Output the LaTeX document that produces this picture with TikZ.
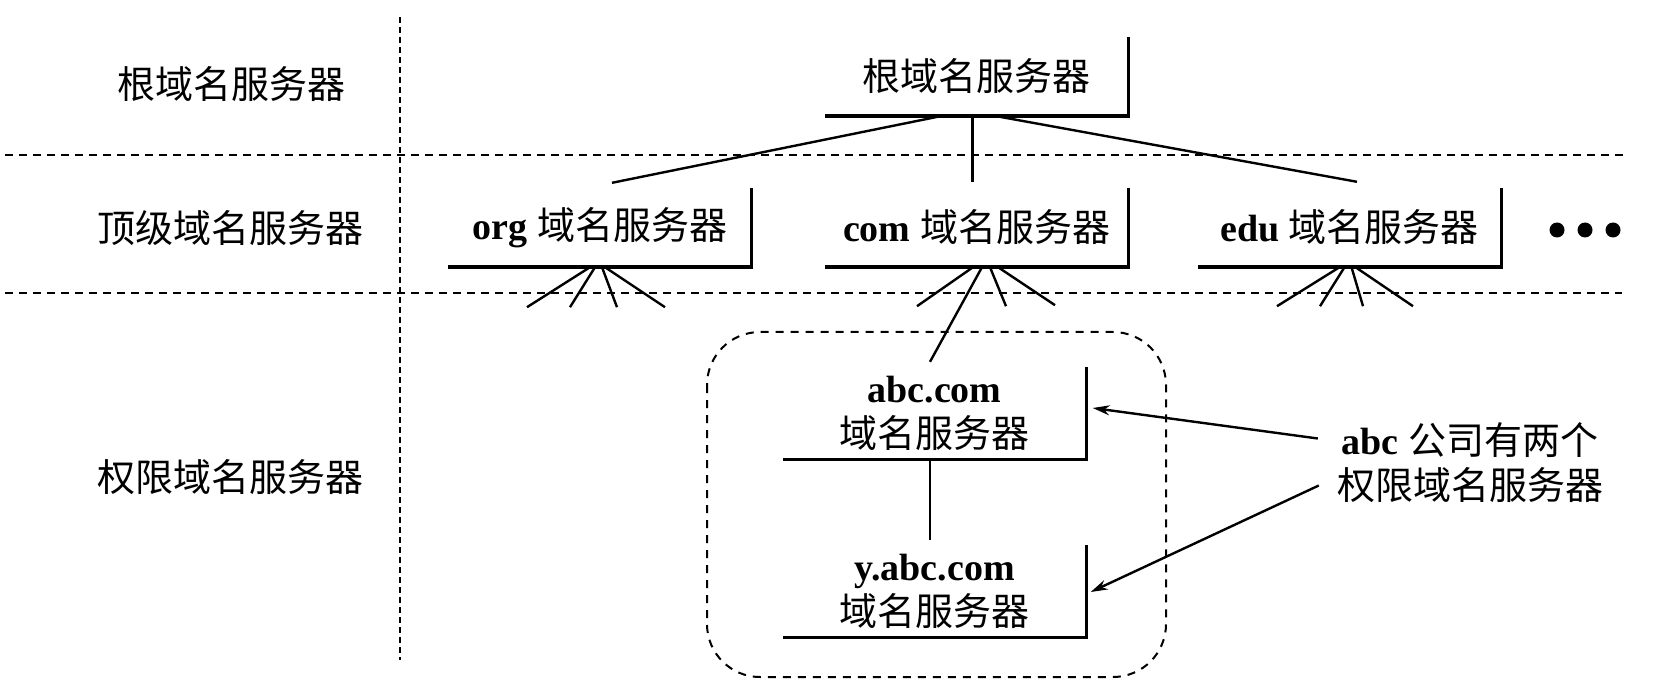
\documentclass[tikz,border=0pt]{standalone}
\usepackage{fontspec}
\setmainfont{Liberation Serif}
\newfontfamily\cjk{Noto Sans CJK SC}
\newcommand\zhtext[1]{{\cjk #1}}
\usetikzlibrary{arrows.meta,calc}
\begin{document}
\begin{tikzpicture}[x=1pt,y=-1pt,
  every node/.style={font=\fontsize{38}{45}\selectfont},
  srv/.style={minimum width=303pt, minimum height=79pt, inner sep=0pt, align=center},
  srvtall/.style={srv, minimum height=92pt},
  boxline/.style={line width=3.4pt, line join=miter},
  conn/.style={line width=2.4pt},
  sep/.style={line width=2pt, dash pattern=on 8pt off 6pt},
  vsep/.style={line width=2pt, dash pattern=on 6pt off 4pt},
  grp/.style={line width=2pt, dash pattern=on 8pt off 7pt, rounded corners=53pt},
  arr/.style={line width=2.4pt, -{Stealth[length=17pt,width=10pt]}},
  lvl/.style={inner sep=0pt},
  note/.style={inner sep=0pt, align=center}
]
\useasboundingbox (0,0) rectangle (1680,700);

% separators
\draw[sep] (5,155) -- (1625,155);
\draw[sep] (5,293) -- (1622,293);
\draw[vsep] (400,17) -- (400,660);

% level labels
\node[lvl] (l1) at (231,84) {\zhtext{根域名服务器}};
\node[lvl] (l2) at (230,228) {\zhtext{顶级域名服务器}};
\node[lvl] (l3) at (230,477) {\zhtext{权限域名服务器}};

% servers
\node[srv] (root) at (976.5,76.5) {\zhtext{根域名服务器}};
\node[srv] (org) at (600,227.5) {{\bfseries org} \zhtext{域名服务器}};
\node[srv] (com) at (976.5,227.5) {{\bfseries com} \zhtext{域名服务器}};
\node[srv] (edu) at (1349.5,227.5) {{\bfseries edu} \zhtext{域名服务器}};
\node[srvtall] (abc) at (934.5,413) {{\bfseries abc.com}\\\zhtext{域名服务器}};
\node[srvtall] (yabc) at (934.5,591) {{\bfseries y.abc.com}\\\zhtext{域名服务器}};

\foreach \n in {root,org,com,edu,abc,yabc}
  \draw[boxline] (\n.south west) -- (\n.south east) -- (\n.north east);

% dots
\foreach \x in {1557,1585,1613} \fill (\x,230) circle (7.5pt);

% root connectors
\draw[conn] ($(root.south)+(-36,0)$) -- ($(org.north)+(12,-5)$);
\draw[conn] ($(root.south)+(-4,0)$) -- ($(com.north)+(-4,-6)$);
\draw[conn] ($(root.south)+(20,0)$) -- ($(edu.north)+(7.5,-6)$);

% org fan
\draw[conn] ($(org.south)+(-10,0)$) -- ++(-63,40);
\draw[conn] ($(org.south)+(-5,0)$) -- ++(-25,40);
\draw[conn] ($(org.south)+(2,0)$) -- ++(15,40);
\draw[conn] ($(org.south)+(5,0)$) -- ++(60,40);

% com fan
\draw[conn] ($(com.south)+(-3.5,0)$) -- ++(-56,39);
\draw[conn] ($(com.south)+(5.5,0)$) -- ($(abc.north)+(-4.5,-5)$);
\draw[conn] ($(com.south)+(13.5,0)$) -- ++(16,39);
\draw[conn] ($(com.south)+(21.5,0)$) -- ++(57,38);

% edu fan
\draw[conn] ($(edu.south)+(-10,0)$) -- ++(-62.5,39);
\draw[conn] ($(edu.south)+(-5,0)$) -- ++(-24.5,39);
\draw[conn] ($(edu.south)+(2,0)$) -- ++(11.5,39);
\draw[conn] ($(edu.south)+(6,0)$) -- ++(57.5,39);

% abc -> y.abc
\draw[conn] ($(abc.south)+(-4.5,0)$) -- ($(yabc.north)+(-4.5,-5)$);

% group
\draw[grp] (707,332) rectangle (1166,677);

% note and arrows
\node[note] (note) at (1470,462.5) {{\bfseries abc} \zhtext{公司有两个}\\\zhtext{权限域名服务器}};
\draw[arr] ($(note.west)+(-19,-24)$) -- ($(abc.east)+(6.5,-5)$);
\draw[arr] ($(note.west)+(-18,23)$) -- ($(yabc.east)+(4.5,1)$);
\end{tikzpicture}
\end{document}
